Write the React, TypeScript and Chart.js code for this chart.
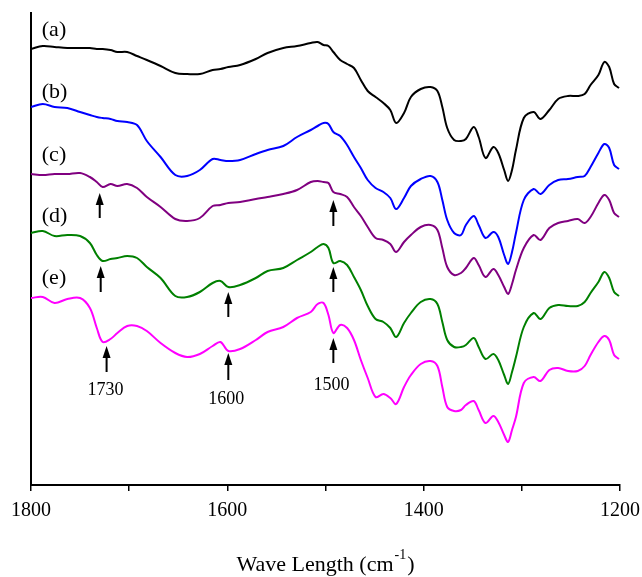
import React, { useEffect, useRef } from 'react';
import { Chart, registerables } from 'chart.js';

Chart.register(...registerables);

// Wavenumber grid (cm^-1)
const wavenumbers = [1800,1788,1776,1763,1750,1740,1733,1727,1719,1712,1702,1692,1682,1668,1653,1641,1628,1615,1607,1599,1587,1571,1559,1543,1529,1515,1508,1502,1497,1492,1485,1478,1471,1464,1457,1449,1441,1434,1428,1420,1413,1403,1393,1386,1381,1376,1369,1362,1357,1349,1344,1337,1329,1324,1318,1314,1310,1306,1298,1288,1281,1272,1263,1253,1243,1236,1230,1222,1216,1211,1206,1201];

// Offset transmittance (arbitrary units)
const seriesA = [436,439,438,437,437,437,436,436,435,433,433,429,425,419,412,411,411,415,416,418,420,426,432,437,439,442,443,440,439,433,425,421,417,405,394,388,382,375,362,372,388,396,398,394,378,357,345,344,346,358,348,327,338,332,315,304,315,335,367,373,366,375,386,389,389,391,400,410,423,418,401,397];
const seriesB = [378,381,378,377,373,370,368,367,366,364,363,360,344,328,310,309,315,326,325,324,325,331,335,339,348,355,359,362,361,353,349,340,328,317,305,297,293,287,276,287,299,306,309,303,285,265,252,250,260,269,260,247,253,248,230,221,233,252,285,296,291,300,305,306,308,309,318,332,341,337,320,316];
const seriesC = [311,310,311,311,312,308,303,298,301,299,301,297,288,278,266,264,267,279,280,282,283,286,288,291,295,303,304,303,302,293,291,288,278,269,258,247,245,241,233,243,250,258,260,255,237,218,210,212,217,227,220,208,216,210,198,191,201,215,237,250,245,257,262,264,266,262,268,282,290,285,272,268];
const seriesD = [252,254,249,250,249,242,230,224,226,227,229,227,218,207,189,188,193,202,204,198,200,207,214,217,225,233,238,241,237,222,224,220,208,195,179,166,163,157,148,162,172,183,186,181,163,145,138,138,140,147,138,126,131,125,110,101,113,128,158,172,166,177,180,179,179,183,192,203,213,207,193,189];
const seriesE = [187,188,182,186,187,177,157,143,146,152,159,159,154,142,132,128,131,139,143,134,136,145,153,158,167,173,181,182,170,152,160,157,145,125,107,88,91,87,81,98,110,121,124,119,98,78,74,75,80,84,75,62,69,63,50,43,55,68,102,108,104,115,117,114,114,119,130,143,149,145,130,126];

const seriesNames = ['(a)', '(b)', '(c)', '(d)', '(e)'];
const seriesColors = ['#000000', '#0000ff', '#800080', '#008000', '#ff00ff'];
const labelWave = 1789;
const labelValues = [449, 387, 324, 263, 201];

// Arrows marking bands
const arrowWaves = [1730, 1492, 1729, 1599, 1492, 1723, 1599, 1492];
const arrowTips = [292, 285, 219, 193, 218, 139, 132, 147];
const arrowTails = [267, 259, 193, 168, 193, 113, 105, 122];

const bandLabels = ['1730', '1600', '1500'];
const bandLabelWaves = [1724, 1601, 1494];
const bandLabelValues = [90, 81, 95];

const xTickValues = [1800, 1600, 1400, 1200];
const xMinorTicks = [1800, 1700, 1600, 1500, 1400, 1300, 1200];

const SERIF = "'Liberation Serif', 'Times New Roman', serif";

const annotationPlugin = {
  id: 'ftirAnnotations',
  afterDatasetsDraw(chart: any) {
    const { ctx, scales, chartArea } = chart;
    const xs = scales.x;
    const ys = scales.y;
    ctx.save();
    ctx.fillStyle = '#000';
    ctx.strokeStyle = '#000';
    ctx.font = `22px ${SERIF}`;
    ctx.textAlign = 'left';
    ctx.textBaseline = 'alphabetic';
    seriesNames.forEach((n, i) => {
      ctx.fillText(n, xs.getPixelForValue(labelWave), ys.getPixelForValue(labelValues[i]));
    });
    arrowWaves.forEach((w, i) => {
      const x = xs.getPixelForValue(w);
      const yTip = ys.getPixelForValue(arrowTips[i]);
      const yTail = ys.getPixelForValue(arrowTails[i]);
      const head = 12;
      ctx.lineWidth = 2;
      ctx.beginPath();
      ctx.moveTo(x, yTail);
      ctx.lineTo(x, yTip + head - 1);
      ctx.stroke();
      ctx.beginPath();
      ctx.moveTo(x, yTip);
      ctx.lineTo(x - 4, yTip + head);
      ctx.lineTo(x + 4, yTip + head);
      ctx.closePath();
      ctx.fill();
    });
    ctx.font = `18px ${SERIF}`;
    ctx.textAlign = 'center';
    bandLabels.forEach((t, i) => {
      ctx.fillText(t, xs.getPixelForValue(bandLabelWaves[i]), ys.getPixelForValue(bandLabelValues[i]));
    });
    const main = 'Wave Length (cm';
    const sup = '-1';
    const close = ')';
    ctx.font = `22px ${SERIF}`;
    const wMain = ctx.measureText(main).width;
    const wClose = ctx.measureText(close).width;
    ctx.font = `14px ${SERIF}`;
    const wSup = ctx.measureText(sup).width;
    const total = wMain + wSup + wClose + 2;
    const cx = (chartArea.left + chartArea.right) / 2;
    let x0 = cx - total / 2;
    const base = 571;
    ctx.textAlign = 'left';
    ctx.font = `22px ${SERIF}`;
    ctx.fillText(main, x0, base);
    x0 += wMain + 1;
    ctx.font = `14px ${SERIF}`;
    ctx.fillText(sup, x0, base - 12);
    x0 += wSup + 1;
    ctx.font = `22px ${SERIF}`;
    ctx.fillText(close, x0, base);
    ctx.restore();
  },
};

export default function App() {
  const ref = useRef<HTMLCanvasElement | null>(null);
  useEffect(() => {
    if (!ref.current) return;
    const all = [seriesA, seriesB, seriesC, seriesD, seriesE];
    const chart = new Chart(ref.current, {
      type: 'line',
      data: {
        datasets: all.map((s, i) => ({
          label: seriesNames[i],
          data: s.map((v, j) => ({ x: wavenumbers[j], y: v })),
          borderColor: seriesColors[i],
          borderWidth: 2,
          pointRadius: 0,
          fill: false,
          tension: 0.35,
        })),
      },
      options: {
        responsive: false,
        animation: false,
        events: [],
        layout: { padding: { left: 0, right: 22, top: 13, bottom: 0 } },
        plugins: { legend: { display: false }, tooltip: { enabled: false }, title: { display: false } },
        scales: {
          x: {
            type: 'linear',
            reverse: true,
            min: 1200,
            max: 1800,
            afterFit: (s: any) => { s.height = 92; s.paddingLeft = 0; s.paddingRight = 0; },
            afterBuildTicks: (s: any) => {
              s.ticks = xMinorTicks.map((v) => ({ value: v }));
            },
            ticks: {
              autoSkip: false,
              maxRotation: 0,
              padding: 8,
              color: '#000',
              font: { family: SERIF, size: 20 },
              callback: (v: any) => (xTickValues.includes(Number(v)) ? String(v) : ''),
            },
            grid: { display: true, drawOnChartArea: false, drawTicks: true, tickLength: 6, color: '#000', lineWidth: 1.5 },
            border: { display: true, color: '#000', width: 2 },
          },
          y: {
            type: 'linear',
            min: 0,
            max: 472,
            afterFit: (s: any) => { s.width = 31; },
            ticks: { display: false },
            grid: { display: false },
            border: { display: true, color: '#000', width: 2 },
          },
        },
      },
      plugins: [annotationPlugin],
    });
    return () => chart.destroy();
  }, []);
  return (
    <div style={{ position: 'fixed', left: 0, top: 0, width: 642, height: 577, background: '#fff' }}>
      <canvas ref={ref} width={642} height={577} style={{ display: 'block' }} />
    </div>
  );
}
